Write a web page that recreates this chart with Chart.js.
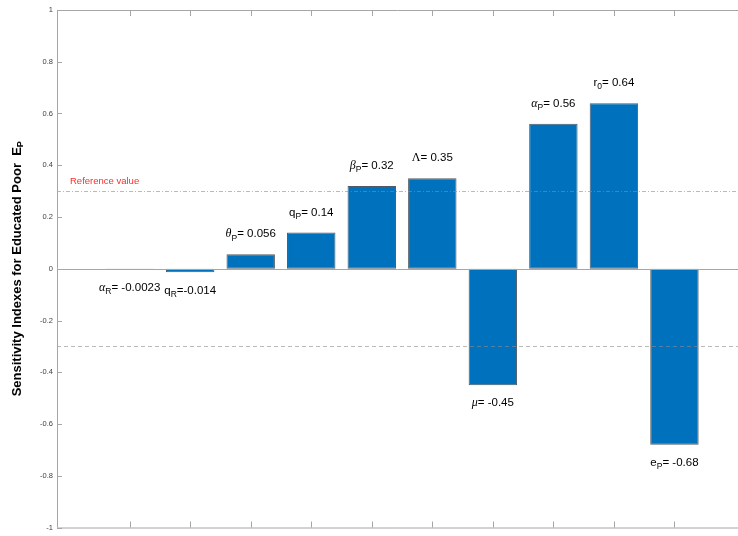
<!DOCTYPE html>
<html>
<head>
<meta charset="utf-8">
<script src="https://cdn.jsdelivr.net/npm/chart.js@4/dist/chart.umd.min.js"></script>
<style>
  html, body { margin: 0; padding: 0; background: #fff; overflow: hidden; }
</style>
</head>
<body>
<canvas id="sensChart" width="738" height="536"></canvas>
<script>
// bar positions and sensitivity index values
const positions = [1, 2, 3, 4, 5, 6, 7, 8, 9, 10];
const indexValues = [-0.0023, -0.014, 0.056, 0.14, 0.32, 0.35, -0.45, 0.56, 0.64, -0.68];
// parameter names: symbol + subscript
const paramSymbols = ['α', 'q', 'θ', 'q', 'β', 'Λ', 'μ', 'α', 'r', 'e'];
const paramSubs = ['R', 'R', 'P', 'P', 'P', '', '', 'P', '0', 'P'];
const yTickValues = [-1, -0.8, -0.6, -0.4, -0.2, 0, 0.2, 0.4, 0.6, 0.8, 1];
const referenceValue = 0.3;

const SANS = '"Liberation Sans", Arial, Helvetica, sans-serif';
const SERIF = '"Liberation Serif", "Times New Roman", serif';
const greek = 'αθβμΛ';

// draw a string made of parts (main text, subscripts) centred on cx
function drawParts(ctx, parts, cx, cy) {
  let total = 0;
  parts.forEach(p => { ctx.font = p.font; p.w = ctx.measureText(p.text).width; total += p.w; });
  let x = cx - total / 2;
  ctx.textAlign = 'left';
  ctx.textBaseline = 'middle';
  parts.forEach(p => {
    ctx.font = p.font;
    ctx.fillText(p.text, x, cy + (p.dy || 0));
    x += p.w;
  });
}

const decorPlugin = {
  id: 'decor',
  afterDatasetsDraw(chart) {
    const ctx = chart.ctx;
    const { left, right, top, bottom } = chart.chartArea;
    const xs = chart.scales.x, ys = chart.scales.y;
    ctx.save();

    // zero line
    const y0 = ys.getPixelForValue(0);
    ctx.strokeStyle = '#a6a6a6';
    ctx.lineWidth = 1;
    ctx.beginPath();
    ctx.moveTo(left, Math.round(y0) + 0.5);
    ctx.lineTo(right, Math.round(y0) + 0.5);
    ctx.stroke();

    // reference lines
    const yr = Math.round(ys.getPixelForValue(referenceValue)) + 0.5;
    ctx.strokeStyle = 'rgba(255, 90, 90, 0.6)';
    ctx.setLineDash([4, 2, 1, 2]);
    ctx.beginPath();
    ctx.moveTo(left, yr);
    ctx.lineTo(right, yr);
    ctx.stroke();
    const yn = Math.round(ys.getPixelForValue(-referenceValue)) + 0.5;
    ctx.strokeStyle = 'rgba(140, 140, 140, 0.6)';
    ctx.setLineDash([4, 3]);
    ctx.beginPath();
    ctx.moveTo(left, yn);
    ctx.lineTo(right, yn);
    ctx.stroke();
    ctx.setLineDash([]);

    ctx.fillStyle = '#ff2a2a';
    ctx.font = '9.5px ' + SANS;
    ctx.textAlign = 'left';
    ctx.textBaseline = 'middle';
    ctx.fillText('Reference value', left + 13, yr - 10);

    // frame: left, top, bottom
    ctx.strokeStyle = '#a6a6a6';
    ctx.beginPath();
    ctx.moveTo(left + 0.5, top);
    ctx.lineTo(left + 0.5, bottom);
    ctx.moveTo(left, top + 0.5);
    ctx.lineTo(right, top + 0.5);
    ctx.moveTo(left, bottom + 0.5);
    ctx.lineTo(right, bottom + 0.5);
    ctx.stroke();

    // inward tick marks
    ctx.beginPath();
    yTickValues.forEach(v => {
      const y = Math.round(ys.getPixelForValue(v)) + 0.5;
      ctx.moveTo(left, y);
      ctx.lineTo(left + 5, y);
    });
    positions.forEach(p => {
      const x = Math.round(xs.getPixelForValue(p)) + 0.5;
      ctx.moveTo(x, bottom);
      ctx.lineTo(x, bottom - 6);
      ctx.moveTo(x, top);
      ctx.lineTo(x, top + 6);
    });
    ctx.stroke();

    // bar labels
    ctx.fillStyle = '#000';
    indexValues.forEach((v, i) => {
      const sym = paramSymbols[i];
      const symFont = greek.includes(sym)
        ? (sym === 'Λ' ? '12px ' + SERIF : 'italic 12px ' + SERIF)
        : '11.5px ' + SANS;
      const parts = [{ text: sym, font: symFont }];
      if (paramSubs[i]) parts.push({ text: paramSubs[i], font: '8.5px ' + SANS, dy: 4 });
      parts.push({ text: (i === 1 ? '=' : '= ') + v, font: '11.5px ' + SANS });
      const cx = xs.getPixelForValue(positions[i]);
      const end = ys.getPixelForValue(v);
      const cy = v >= 0 ? end - 20 : end + 18;
      drawParts(ctx, parts, cx, cy);
    });

    // y axis title with subscript
    ctx.translate(17, (top + bottom) / 2);
    ctx.rotate(-Math.PI / 2);
    ctx.fillStyle = '#000';
    drawParts(ctx, [
      { text: 'Sensitivity Indexes for Educated Poor  E', font: 'bold 13px ' + SANS },
      { text: 'P', font: 'bold 9px ' + SANS, dy: 4 }
    ], 0, 0);
    ctx.restore();
  }
};

const ctx = document.getElementById('sensChart').getContext('2d');
const sensChart = new Chart(ctx, {
  type: 'bar',
  data: {
    datasets: [{
      data: positions.map((x, i) => ({ x: x, y: indexValues[i] })),
      backgroundColor: '#0072BD',
      borderColor: '#4f5b66',
      borderWidth: 1,
      borderSkipped: false,
      barPercentage: 0.8,
      categoryPercentage: 1
    }]
  },
  options: {
    responsive: false,
    animation: false,
    devicePixelRatio: 1,
    layout: { padding: { top: 10, bottom: 5, left: 0, right: 0 } },
    plugins: {
      legend: { display: false },
      tooltip: { enabled: false }
    },
    scales: {
      x: {
        type: 'linear',
        min: -0.2,
        max: 11.05,
        offset: false,
        display: false,
        ticks: { stepSize: 1, includeBounds: false }
      },
      y: {
        min: -1,
        max: 1,
        afterFit(scale) { scale.width = 57; },
        afterBuildTicks(scale) { scale.ticks = yTickValues.map(v => ({ value: v })); },
        grid: { display: false, drawTicks: false },
        border: { display: false },
        ticks: {
          padding: 4,
          color: '#404040',
          font: { size: 7.5, family: SANS },
          callback: v => String(Number(v.toFixed(1)))
        }
      }
    }
  },
  plugins: [decorPlugin]
});
</script>
</body>
</html>
